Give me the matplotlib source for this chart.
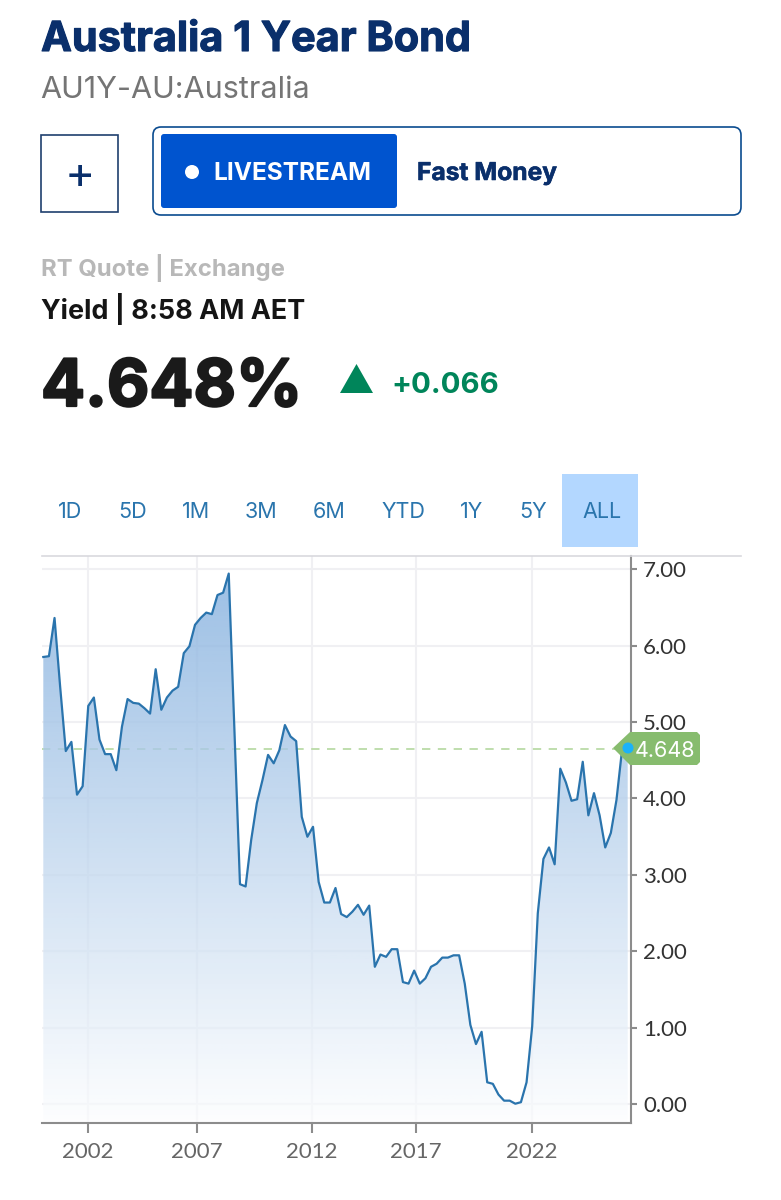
import numpy as np
from matplotlib import pyplot as plt
from matplotlib import patheffects
from matplotlib.patches import FancyBboxPatch, Polygon, Rectangle, Circle

plt.rcParams['font.family'] = ['Lato', 'DejaVu Sans']

# quarterly yield
yields = [5.85, 5.86, 6.36, 5.46, 4.62, 4.74, 4.05, 4.16, 5.21, 5.32,
          4.77, 4.58, 4.58, 4.37, 4.94, 5.30, 5.25, 5.24, 5.18, 5.11,
          5.69, 5.16, 5.32, 5.41, 5.46, 5.90, 5.99, 6.27, 6.36, 6.43,
          6.41, 6.66, 6.69, 6.94, 4.92, 2.88, 2.85, 3.46, 3.94, 4.24,
          4.57, 4.46, 4.63, 4.96, 4.81, 4.75, 3.76, 3.50, 3.63, 2.91,
          2.64, 2.64, 2.83, 2.49, 2.45, 2.52, 2.61, 2.48, 2.60, 1.80,
          1.96, 1.93, 2.03, 2.03, 1.60, 1.58, 1.75, 1.58, 1.65, 1.80,
          1.84, 1.92, 1.92, 1.95, 1.95, 1.58, 1.04, 0.79, 0.95, 0.29,
          0.27, 0.13, 0.05, 0.05, 0.01, 0.03, 0.29, 1.02, 2.50, 3.21,
          3.36, 3.14, 4.39, 4.21, 3.97, 3.99, 4.48, 3.78, 4.07, 3.78,
          3.36, 3.55, 3.98, 4.64, 4.648]
year_pos = [7.9, 27.3, 47.8, 66.3, 87.0]
year_labels = ['2002', '2007', '2012', '2017', '2022']
y_ticks = [0, 1, 2, 3, 4, 5, 6, 7]
last_value = 4.648
tabs = ['1D', '5D', '1M', '3M', '6M', 'YTD', '1Y', '5Y', 'ALL']
tab_x = [70, 133, 196, 261, 329, 403, 472, 533, 602]

W, H = 781, 1200
fig = plt.figure(figsize=(W / 100, H / 100), dpi=100)

# chart
ax = fig.add_axes([42 / W, 1 - 1123 / H, (630.7 - 42) / W, (1123 - 556) / H])
x = np.arange(len(yields))
step = (627.7 - 43.3) / (len(yields) - 1)

ax.grid(True, color='#f0f0f3', lw=1.5)
ax.set_axisbelow(True)
ax.axhline(last_value, color='#b4d8a0', lw=1.2, dashes=(5, 4.5), zorder=1)

# gradient under the line, white veil keeps the grid faint
grad = np.zeros((256, 1, 4))
grad[..., 0], grad[..., 1], grad[..., 2] = 30 / 255, 110 / 255, 195 / 255
grad[..., 3] = np.linspace(0.44, 0.01, 256)[:, None]
area = ax.fill_between(x, yields, -0.242, facecolor='white', edgecolor='none', alpha=0.7, zorder=1.5)
im = ax.imshow(grad, extent=(x[0], x[-1], -0.242, 7), origin='upper', aspect='auto', zorder=2)
im.set_clip_path(area.get_paths()[0], transform=ax.transData)
ax.set_xlim(-1.3 / step, len(yields) - 1 + 3 / step)
ax.set_ylim(-0.242, 7.17)

ax.plot(x, yields, color='#2a74ad', lw=1.6, zorder=3)

ax.spines['top'].set_visible(False)
ax.spines['left'].set_visible(False)
ax.spines['right'].set_color('#8c8c8c')
ax.spines['bottom'].set_color('#8c8c8c')
ax.spines['right'].set_linewidth(1.5)
ax.spines['bottom'].set_linewidth(1.5)
ax.yaxis.tick_right()
ax.set_yticks(y_ticks, ['%.2f' % v for v in y_ticks])
ax.set_xticks(year_pos, year_labels)
ax.tick_params(axis='y', length=4, width=1.5, color='#8c8c8c', labelcolor='#333333',
               labelsize=16, pad=5)
ax.tick_params(axis='x', length=7, width=1.5, color='#8c8c8c', labelcolor='#666666',
               labelsize=16, pad=7)

# page furniture, in pixel coordinates
ui = fig.add_axes([0, 0, 1, 1], zorder=5)
ui.set_xlim(0, W)
ui.set_ylim(H, 0)
ui.axis('off')
ui.patch.set_alpha(0)


def label(px, py, s, size, color, weight='normal', ha='left', heavy=0):
    t = ui.text(px, py, s, fontsize=size, color=color, fontweight=weight, ha=ha, va='baseline',
                family=['Inter', 'DejaVu Sans'])
    if heavy:
        t.set_path_effects([patheffects.withStroke(linewidth=heavy, foreground=color)])


navy = '#0a2f6b'
label(41, 51, 'Australia 1 Year Bond', 29.8, navy, 'bold', heavy=0.8)
label(40, 98, 'AU1Y-AU:Australia', 22, '#757575')

ui.add_patch(Rectangle((41, 135), 77, 77, fc='white', ec='#1f3f6e', lw=1.2))
label(79.5, 187.5, '+', 33, navy, ha='center')

ui.add_patch(FancyBboxPatch((157, 131), 580, 80, boxstyle='round,pad=4,rounding_size=8',
                            fc='white', ec='#0a4b8f', lw=1.2))
ui.add_patch(FancyBboxPatch((163, 136), 232, 70, boxstyle='round,pad=2,rounding_size=3',
                            fc='#0054cf', ec='none'))
ui.add_patch(Circle((192, 172), 7, fc='white', ec='none'))
label(213, 180, 'LIVESTREAM', 17.6, 'white', 'bold')
label(417, 180, 'Fast Money', 17.7, navy, 'bold', heavy=0.4)

label(41, 276, 'RT Quote | Exchange', 17.2, '#b8b8b8', 'bold')
label(41, 319, 'Yield | 8:58 AM AET', 19.4, '#151515', 'bold')
label(41, 406, '4.648%', 47, '#1a1a1a', 'bold', heavy=1.6)
ui.add_patch(Polygon([(340, 393), (373, 393), (356.5, 364)], fc='#00855a', ec='none'))
label(391, 393, '+0.066', 21.2, '#00855a', 'bold')

ui.add_patch(Rectangle((562, 474), 76, 73, fc='#b3d7ff', ec='none'))
for name, tx in zip(tabs, tab_x):
    label(tx, 518, name, 15.5, '#2a75ad', ha='center')

ui.plot([42, 741], [556, 556], color='#d9d9de', lw=1.2)

# last value tag
ui.add_patch(Polygon([(613, 748), (630, 732), (697, 732), (700, 735), (700, 762), (697, 765),
                      (630, 765)], fc='#87bc6e', ec='none'))
ui.add_patch(Circle((628, 748), 5.5, fc='#1bb2f8', ec='none'))
label(635, 757, '%.3f' % last_value, 15.5, 'white')

fig.savefig('out.png', dpi=100)
